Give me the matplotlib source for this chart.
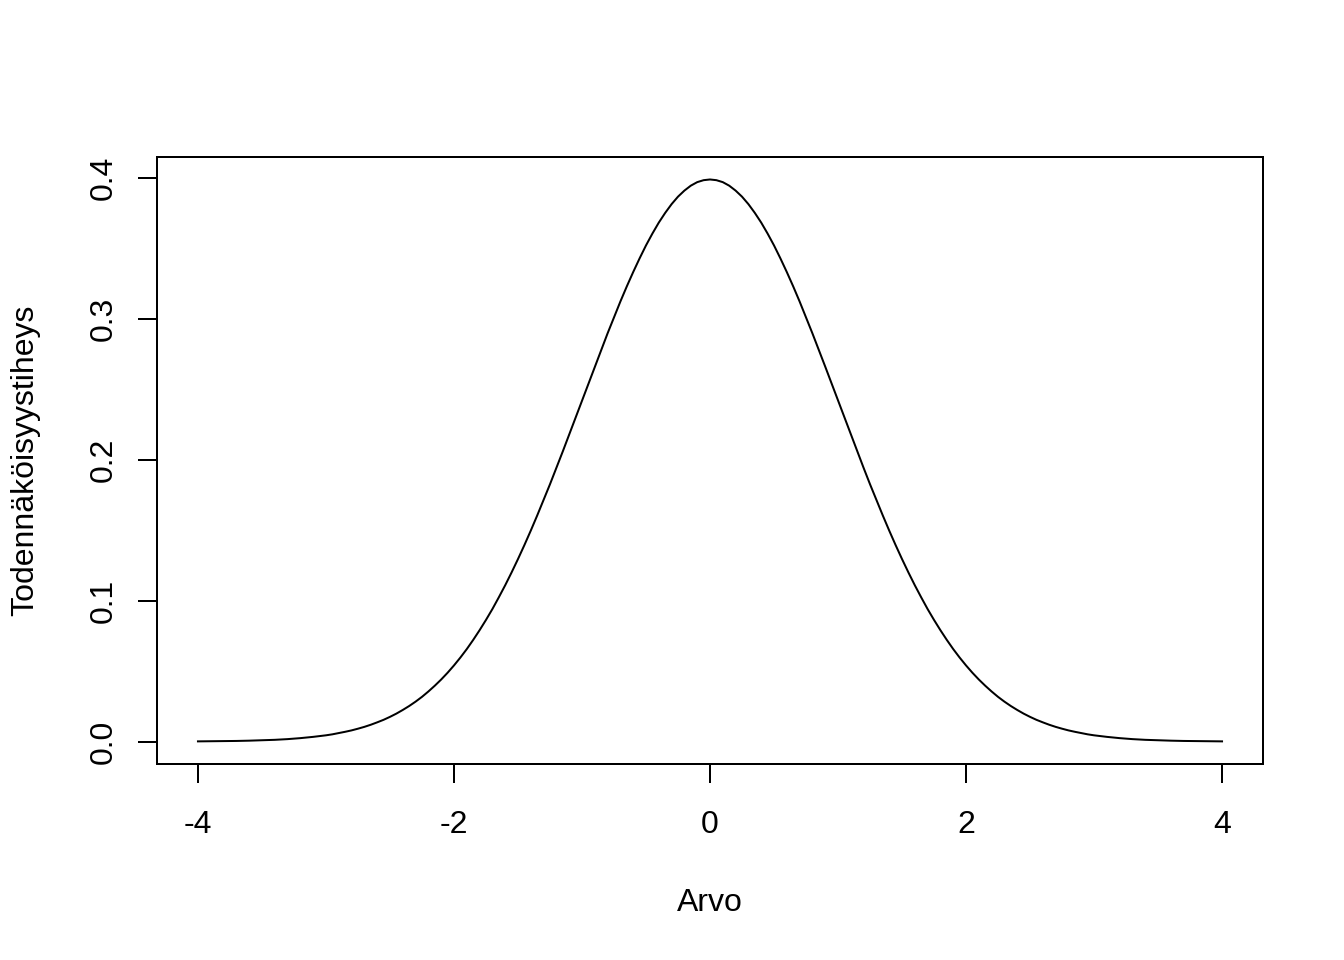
import matplotlib
matplotlib.use("Agg")
import matplotlib.pyplot as plt

plt.rcParams['font.family'] = ['Liberation Sans', 'DejaVu Sans']

x_vals = [-4.0, -3.9, -3.8, -3.7, -3.6, -3.5, -3.4, -3.3, -3.2, -3.1,
          -3.0, -2.95, -2.9, -2.85, -2.8, -2.75, -2.7, -2.65, -2.6, -2.55,
          -2.5, -2.45, -2.4, -2.35, -2.3, -2.25, -2.2, -2.15, -2.1, -2.05,
          -2.0, -1.95, -1.9, -1.85, -1.8, -1.75, -1.7, -1.65, -1.6, -1.55,
          -1.5, -1.45, -1.4, -1.35, -1.3, -1.25, -1.2, -1.15, -1.1, -1.05,
          -1.0, -0.95, -0.9, -0.85, -0.8, -0.75, -0.7, -0.65, -0.6, -0.55,
          -0.5, -0.45, -0.4, -0.35, -0.3, -0.25, -0.2, -0.15, -0.1, -0.05,
          0.0,
          0.05, 0.1, 0.15, 0.2, 0.25, 0.3, 0.35, 0.4, 0.45, 0.5,
          0.55, 0.6, 0.65, 0.7, 0.75, 0.8, 0.85, 0.9, 0.95, 1.0,
          1.05, 1.1, 1.15, 1.2, 1.25, 1.3, 1.35, 1.4, 1.45, 1.5,
          1.55, 1.6, 1.65, 1.7, 1.75, 1.8, 1.85, 1.9, 1.95, 2.0,
          2.05, 2.1, 2.15, 2.2, 2.25, 2.3, 2.35, 2.4, 2.45, 2.5,
          2.55, 2.6, 2.65, 2.7, 2.75, 2.8, 2.85, 2.9, 2.95, 3.0,
          3.1, 3.2, 3.3, 3.4, 3.5, 3.6, 3.7, 3.8, 3.9, 4.0]
density = [0.0001, 0.0002, 0.0003, 0.0004, 0.0006, 0.0009, 0.0012, 0.0017, 0.0024, 0.0033,
           0.0044, 0.0051, 0.0060, 0.0069, 0.0079, 0.0091, 0.0104, 0.0119, 0.0136, 0.0154,
           0.0175, 0.0198, 0.0224, 0.0252, 0.0283, 0.0317, 0.0355, 0.0396, 0.0440, 0.0488,
           0.0540, 0.0596, 0.0656, 0.0721, 0.0790, 0.0863, 0.0940, 0.1023, 0.1109, 0.1200,
           0.1295, 0.1394, 0.1497, 0.1604, 0.1714, 0.1826, 0.1942, 0.2059, 0.2179, 0.2299,
           0.2420, 0.2541, 0.2661, 0.2780, 0.2897, 0.3011, 0.3123, 0.3230, 0.3332, 0.3429,
           0.3521, 0.3605, 0.3683, 0.3752, 0.3814, 0.3867, 0.3910, 0.3945, 0.3970, 0.3984,
           0.3989,
           0.3984, 0.3970, 0.3945, 0.3910, 0.3867, 0.3814, 0.3752, 0.3683, 0.3605, 0.3521,
           0.3429, 0.3332, 0.3230, 0.3123, 0.3011, 0.2897, 0.2780, 0.2661, 0.2541, 0.2420,
           0.2299, 0.2179, 0.2059, 0.1942, 0.1826, 0.1714, 0.1604, 0.1497, 0.1394, 0.1295,
           0.1200, 0.1109, 0.1023, 0.0940, 0.0863, 0.0790, 0.0721, 0.0656, 0.0596, 0.0540,
           0.0488, 0.0440, 0.0396, 0.0355, 0.0317, 0.0283, 0.0252, 0.0224, 0.0198, 0.0175,
           0.0154, 0.0136, 0.0119, 0.0104, 0.0091, 0.0079, 0.0069, 0.0060, 0.0051, 0.0044,
           0.0033, 0.0024, 0.0017, 0.0012, 0.0009, 0.0006, 0.0004, 0.0003, 0.0002, 0.0001]
x_ticks = [-4, -2, 0, 2, 4]
y_ticks = [0.0, 0.1, 0.2, 0.3, 0.4]
y_tick_labels = ["0.0", "0.1", "0.2", "0.3", "0.4"]
x_label = "Arvo"
y_label = "Todennäköisyystiheys"

fig = plt.figure(figsize=(7, 5), dpi=192)
ax = fig.add_axes([157/1344, 1 - 764/960, (1263 - 157)/1344, (764 - 157)/960])
ax.plot(x_vals, density, color='black', linewidth=0.75)
ax.set_xlim(-4.32, 4.32)
ax.set_ylim(-0.01596, 0.41485)
ax.set_xticks(x_ticks)
ax.set_xticklabels([str(t) for t in x_ticks])
ax.set_yticks(y_ticks)
ax.set_yticklabels(y_tick_labels, rotation=90, va='center')
for s in ax.spines.values():
    s.set_linewidth(0.75)
ax.tick_params(direction='out', length=7.2, width=0.75, labelsize=12)
ax.tick_params(axis='x', pad=10)
ax.tick_params(axis='y', pad=7)
ax.set_xlabel(x_label, fontsize=12, labelpad=18)
ax.set_ylabel(y_label, fontsize=12, labelpad=18.5)
fig.savefig("out.png", dpi=192)
